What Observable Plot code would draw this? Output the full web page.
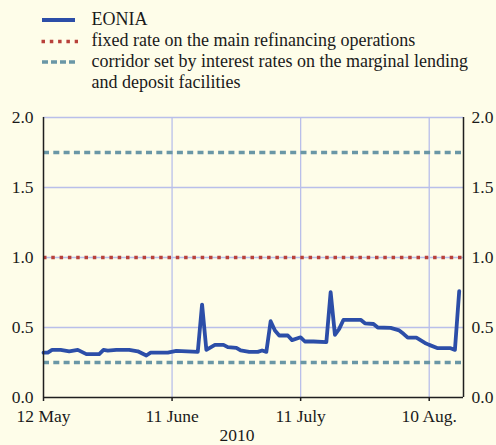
<!DOCTYPE html>
<html><head><meta charset="utf-8">
<script src="https://cdn.jsdelivr.net/npm/d3@7"></script>
<script src="https://cdn.jsdelivr.net/npm/@observablehq/plot@0.6"></script>
<style>
body{margin:0;background:#fefde9;font-family:"Liberation Serif","Times New Roman",serif;}
svg{display:block;}
#legend text{font-family:"Liberation Serif","Times New Roman",serif;font-size:18px;fill:#1a1a1a;}
</style></head><body>
<svg id="legend" width="496" height="100"></svg>
<div id="chart"></div>
<script>
const dates = ["2010-05-12","2010-05-13","2010-05-14","2010-05-16","2010-05-18","2010-05-19","2010-05-20","2010-05-22","2010-05-25","2010-05-26","2010-05-27","2010-05-29","2010-06-01","2010-06-03","2010-06-05","2010-06-06","2010-06-10","2010-06-12","2010-06-17","2010-06-18","2010-06-19","2010-06-21","2010-06-23","2010-06-24","2010-06-26","2010-06-27","2010-06-29","2010-07-01","2010-07-02","2010-07-03","2010-07-04","2010-07-05","2010-07-06","2010-07-08","2010-07-09","2010-07-11","2010-07-12","2010-07-14","2010-07-17","2010-07-18","2010-07-19","2010-07-20","2010-07-21","2010-07-25","2010-07-26","2010-07-28","2010-07-29","2010-08-01","2010-08-03","2010-08-04","2010-08-05","2010-08-07","2010-08-09","2010-08-10","2010-08-12","2010-08-15","2010-08-16","2010-08-17"];
const eonia = [0.32,0.32,0.34,0.34,0.33,0.335,0.34,0.31,0.31,0.34,0.335,0.34,0.34,0.33,0.30,0.32,0.32,0.333,0.326,0.664,0.34,0.376,0.376,0.36,0.355,0.336,0.326,0.326,0.336,0.326,0.545,0.479,0.443,0.443,0.41,0.43,0.40,0.40,0.395,0.752,0.448,0.49,0.555,0.555,0.53,0.525,0.50,0.497,0.479,0.455,0.427,0.427,0.39,0.376,0.352,0.352,0.34,0.76];
const fixedRate = [1.0];
const corridor = [0.25, 1.75];
const xDomain = ["2010-05-12","2010-08-18"];
const xTickDates = ["2010-05-12","2010-06-11","2010-07-11","2010-08-10"];
const xTickLabels = ["12 May","11 June","11 July","10 Aug."];
const yTicks = [0, 0.5, 1, 1.5, 2];
const yearLabel = ["2010"];
const legendLabels = ["EONIA","fixed rate on the main refinancing operations","corridor set by interest rates on the marginal lending","and deposit facilities"];

const blue = "#2c4ea8", red = "#b8413a", teal = "#6a97a6", grid = "#b9bfea", axisCol = "#1f1f1f";
const serif = "'Liberation Serif','Times New Roman',serif";

// legend
const lg = d3.select("#legend");
lg.append("line").attr("x1",42).attr("x2",75).attr("y1",20).attr("y2",20).attr("stroke",blue).attr("stroke-width",3.8);
lg.append("line").attr("x1",41.5).attr("x2",78).attr("y1",41.5).attr("y2",41.5).attr("stroke",red).attr("stroke-width",3.5).attr("stroke-dasharray","3.5 4.8");
lg.append("line").attr("x1",42).attr("x2",75).attr("y1",62).attr("y2",62).attr("stroke",teal).attr("stroke-width",3.5).attr("stroke-dasharray","6 3");
[25,46,67,88].forEach((y,i)=>{
  lg.append("text").attr("x",91.5).attr("y",y).attr("font-family",serif).text(legendLabels[i]);
});

const data = dates.map((d,i)=>({date:new Date(d), value:eonia[i]}));
const tDates = xTickDates.map(d=>new Date(d));
const dom = xDomain.map(d=>new Date(d));
const fmtY = d3.format(".1f");

const plot = Plot.plot({
  width:496, height:345,
  marginTop:17, marginBottom:48, marginLeft:43, marginRight:33,
  style:{background:"transparent", fontFamily:serif, fontSize:"17.5px", color:"#1a1a1a"},
  x:{type:"utc", domain:dom},
  y:{domain:[0,2]},
  marks:[
    Plot.ruleY(yTicks.slice(1), {stroke:grid, strokeWidth:1.3}),
    Plot.ruleX(tDates.slice(1), {stroke:grid, strokeWidth:1.3}),
    Plot.ruleY(corridor, {stroke:teal, strokeWidth:3.5, strokeDasharray:"6 4.3"}),
    Plot.ruleY(fixedRate, {stroke:red, strokeWidth:3.5, strokeDasharray:"3.5 4.8"}),
    Plot.line(data, {x:"date", y:"value", stroke:blue, strokeWidth:3.8, strokeLinejoin:"round", curve:"linear"}),
    Plot.axisY({anchor:"left", ticks:yTicks, tickFormat:fmtY, tickSize:0, tickPadding:10, label:null}),
    Plot.axisY({anchor:"right", ticks:yTicks, tickFormat:fmtY, tickSize:0, tickPadding:8, label:null}),
    Plot.axisX({ticks:tDates, tickFormat:d=>xTickLabels[tDates.findIndex(t=>+t===+d)], tickSize:4, tickPadding:8, label:null, stroke:axisCol, strokeWidth:1.5}),
    Plot.ruleX([dom[0]], {stroke:axisCol, strokeWidth:1.5}),
    Plot.ruleX([dom[1]], {stroke:axisCol, strokeWidth:1.5}),
    Plot.ruleY([0], {stroke:axisCol, strokeWidth:1.5}),
    Plot.text(yearLabel, {frameAnchor:"bottom", textAnchor:"middle", lineAnchor:"middle", dx:-16.5, dy:37.5, fill:"#1a1a1a"})
  ]
});
document.getElementById("chart").appendChild(plot);
</script>
</body></html>
